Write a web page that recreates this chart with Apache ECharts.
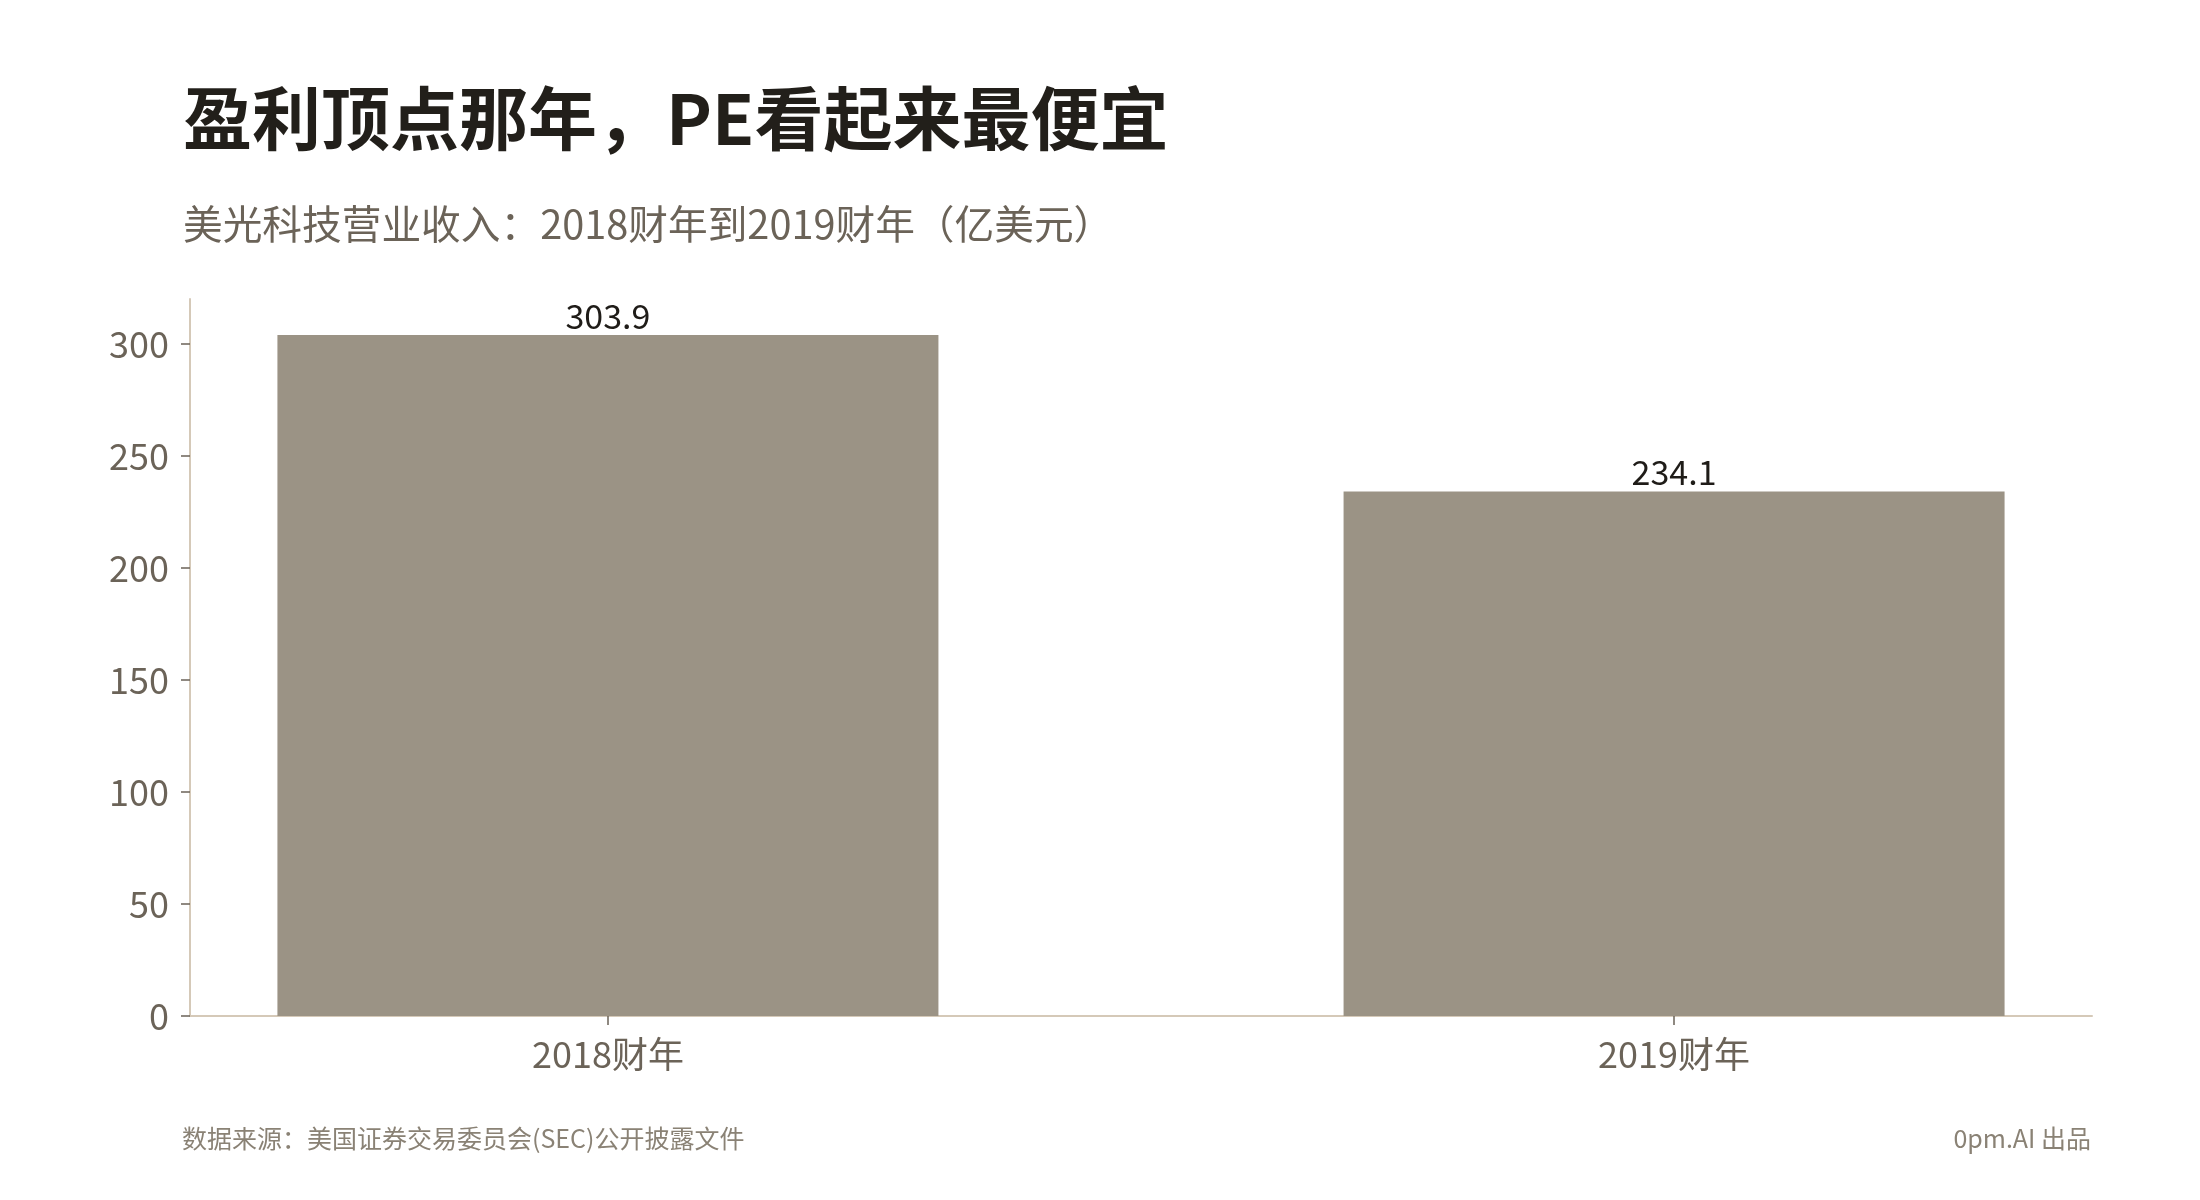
<!DOCTYPE html>
<html>
<head>
<meta charset="utf-8">
<script src="https://cdn.jsdelivr.net/npm/echarts@6/dist/echarts.min.js"></script>
<style>
html,body{margin:0;padding:0;background:#fff;}
#chart{width:2200px;height:1200px;}
</style>
</head>
<body>
<div id="chart"></div>
<script>
const titleText = '盈利顶点那年，PE看起来最便宜';
const subtitleText = '美光科技营业收入：2018财年到2019财年（亿美元）';
const sourceText = '数据来源：美国证券交易委员会(SEC)公开披露文件';
const creditText = '0pm.AI 出品';
const categories = ['2018财年', '2019财年'];
const revenue = [303.9, 234.1];
const yTicks = [0, 50, 100, 150, 200, 250, 300];

const FONT = '"Noto Sans CJK SC", "Noto Sans", sans-serif';
const chart = echarts.init(document.getElementById('chart'), null, {renderer: 'canvas'});

const catIndex = categories.map((c, i) => i);

chart.setOption({
  backgroundColor: '#ffffff',
  animation: false,
  title: [
    {text: titleText, left: 183, top: 84, padding: 0,
     textStyle: {fontFamily: FONT, fontSize: 69, fontWeight: 'bold', color: '#221f1a'}},
    {text: subtitleText, left: 183, top: 204, padding: 0,
     textStyle: {fontFamily: FONT, fontSize: 39.7, fontWeight: 'normal', color: '#6b6358'}},
    {text: sourceText, left: 182, top: 1126, padding: 0,
     textStyle: {fontFamily: FONT, fontSize: 25, fontWeight: 'normal', color: '#8a8275'}},
    {text: creditText, right: 109, top: 1126, padding: 0,
     textStyle: {fontFamily: FONT, fontSize: 25, fontWeight: 'normal', color: '#8a8275'}}
  ],
  grid: {left: 190, right: 108, top: 299, bottom: 184, containLabel: false},
  xAxis: {
    type: 'value',
    min: -0.392,
    max: 1.392,
    splitLine: {show: false},
    axisLine: {show: true, onZero: false, lineStyle: {color: '#d5c9b8', width: 2}},
    axisTick: {show: true, customValues: catIndex, length: 9, lineStyle: {color: '#6b6358', width: 1.5}},
    axisLabel: {
      customValues: catIndex,
      margin: 20,
      fontFamily: FONT, fontSize: 36, color: '#6b6358',
      formatter: v => categories[Math.round(v)]
    }
  },
  yAxis: {
    type: 'value',
    min: 0,
    max: 320,
    interval: 50,
    splitLine: {show: false},
    axisLine: {show: true, onZero: false, lineStyle: {color: '#d5c9b8', width: 2}},
    axisTick: {show: true, customValues: yTicks, length: 9, lineStyle: {color: '#6b6358', width: 1.5}},
    axisLabel: {
      customValues: yTicks,
      margin: 21,
      fontFamily: FONT, fontSize: 36, color: '#6b6358'
    }
  },
  series: [{
    type: 'bar',
    barWidth: '62%',
    data: catIndex.map(i => [i, revenue[i]]),
    itemStyle: {color: '#9b9385'},
    label: {
      show: true, position: 'top', distance: 2,
      fontFamily: FONT, fontSize: 34, color: '#1f1c18',
      formatter: p => p.value[1].toFixed(1)
    }
  }]
});
</script>
</body>
</html>
